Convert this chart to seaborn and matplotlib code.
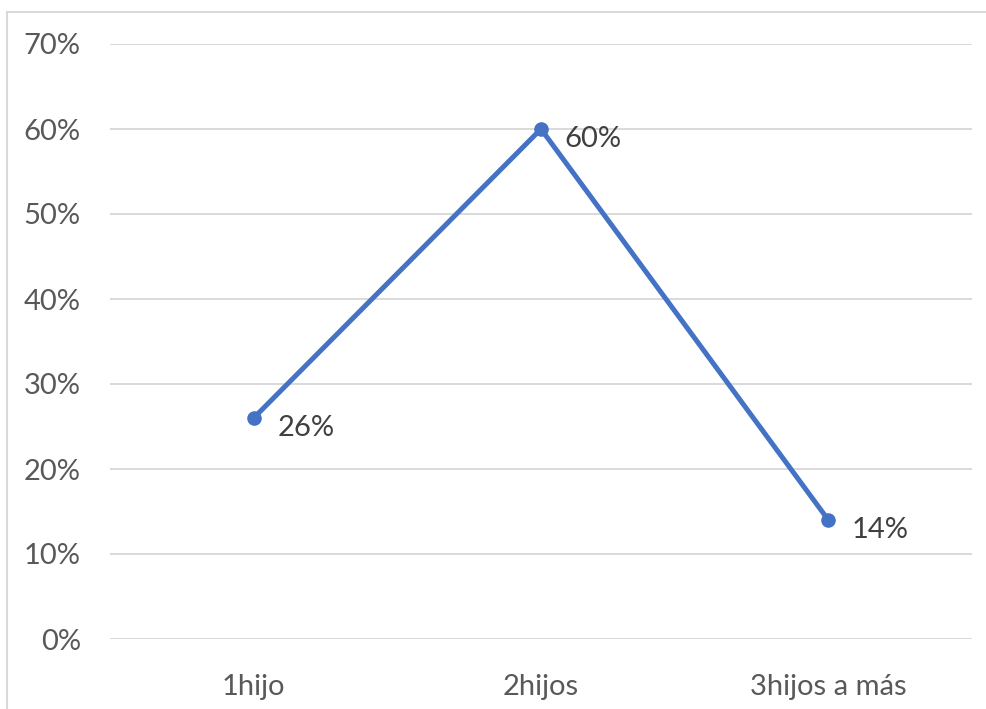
import matplotlib
matplotlib.use("Agg")
import matplotlib.pyplot as plt
import matplotlib.patches as mpatches
import seaborn as sns
import pandas as pd

categories = ["1hijo", "2hijos", "3hijos a más"]
values = [0.26, 0.60, 0.14]
y_ticks = [0.0, 0.1, 0.2, 0.3, 0.4, 0.5, 0.6, 0.7]

sns.set_theme(style="white")
plt.rcParams["font.family"] = ["Lato", "DejaVu Sans"]

W, H = 987, 709
fig = plt.figure(figsize=(W / 100, H / 100), dpi=100)
ax = fig.add_axes([110 / W, 70 / H, 862 / W, 595 / H])

df = pd.DataFrame({"cat": categories, "val": values})
line_color = "#4472C4"
sns.lineplot(data=df, x="cat", y="val", ax=ax, color=line_color, linewidth=3.6,
             marker="o", markersize=10.5, markeredgewidth=0, sort=False)

ax.set_xlim(-0.5, len(categories) - 0.5)
ax.set_ylim(0, 0.7)
ax.set_yticks(y_ticks)
ax.set_yticklabels([f"{int(round(t * 100))}%" for t in y_ticks])
ax.set_xlabel("")
ax.set_ylabel("")
ax.yaxis.grid(True, color="#D9D9D9", linewidth=1.4)
ax.xaxis.grid(False)
ax.set_axisbelow(True)
for s in ax.spines.values():
    s.set_visible(False)
ax.tick_params(axis="y", length=0, pad=21, labelsize=21, labelcolor="#595959")
ax.tick_params(axis="x", length=0, pad=25, labelsize=21, labelcolor="#595959")

for i, v in enumerate(values):
    ax.annotate(f"{int(round(v * 100))}%", (i, v), xytext=(17, -7),
                textcoords="offset points", ha="left", va="center",
                fontsize=21, color="#404040")

# chart area border
fig.patches.append(mpatches.Rectangle((7.5 / W, -0.05), 1.1, (H - 11.5) / H + 0.05,
                                      transform=fig.transFigure, fill=False,
                                      edgecolor="#D9D9D9", linewidth=1.5,
                                      clip_on=False))

fig.savefig("out.png", dpi=100)
